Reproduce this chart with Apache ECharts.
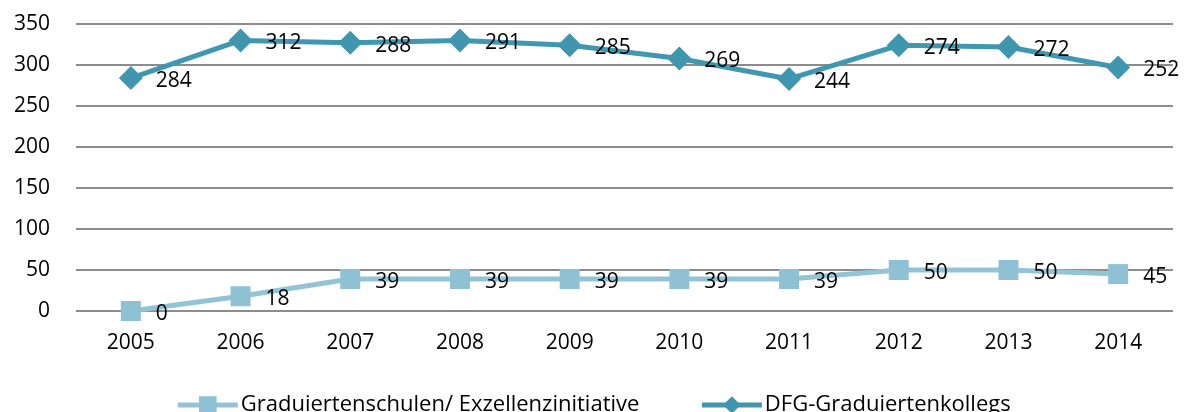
<!DOCTYPE html>
<html>
<head>
<meta charset="utf-8">
<script src="https://cdn.jsdelivr.net/npm/echarts@6/dist/echarts.min.js"></script>
<style>
html,body{margin:0;padding:0;background:#fff;}
#chart{width:1186px;height:412px;}
</style>
</head>
<body>
<div id="chart"></div>
<script>
var years = ['2005','2006','2007','2008','2009','2010','2011','2012','2013','2014'];
var graduiertenschulen = [0, 18, 39, 39, 39, 39, 39, 50, 50, 45];
var dfgKollegs = [284, 312, 288, 291, 285, 269, 244, 274, 272, 252];
var yTicks = [0, 50, 100, 150, 200, 250, 300, 350];

var FONT = 'Open Sans';
var chart = echarts.init(document.getElementById('chart'));
chart.setOption({
  animation: false,
  textStyle: {fontFamily: FONT},
  grid: {left: 76, right: 13, top: 24, bottom: 101, containLabel: false},
  legend: {
    top: 389,
    left: 'center',
    itemGap: 60,
    itemWidth: 60,
    itemHeight: 22,
    lineStyle: {width: 5},
    textStyle: {fontFamily: FONT, fontSize: 22, color: '#000', padding: [0, 0, 0, -2]},
    data: ['Graduiertenschulen/ Exzellenzinitiative', 'DFG-Graduiertenkollegs']
  },
  xAxis: {
    type: 'category',
    data: years,
    boundaryGap: true,
    axisLine: {show: false},
    axisTick: {show: false},
    axisLabel: {fontFamily: FONT, fontSize: 21, color: '#000', margin: 22}
  },
  yAxis: {
    type: 'value',
    min: yTicks[0],
    max: yTicks[yTicks.length - 1],
    interval: 50,
    axisLine: {show: false},
    axisTick: {show: false},
    axisLabel: {fontFamily: FONT, fontSize: 21, color: '#000', margin: 26},
    splitLine: {lineStyle: {color: '#8c8c8c', width: 2}}
  },
  series: [
    {
      name: 'Graduiertenschulen/ Exzellenzinitiative',
      type: 'line',
      stack: 'total',
      data: graduiertenschulen,
      symbol: 'rect',
      symbolSize: 20,
      lineStyle: {color: '#93c4d6', width: 5},
      itemStyle: {color: '#8fc1d4'},
      label: {show: true, position: 'right', distance: 15, offset: [0, 3], fontFamily: FONT, fontSize: 21, color: '#000'},
      z: 3
    },
    {
      name: 'DFG-Graduiertenkollegs',
      type: 'line',
      stack: 'total',
      data: dfgKollegs,
      symbol: 'diamond',
      symbolSize: 24,
      lineStyle: {color: '#3f97b0', width: 5},
      itemStyle: {color: '#3f96ae'},
      label: {show: true, position: 'right', distance: 13, offset: [0, 3], fontFamily: FONT, fontSize: 21, color: '#000'},
      z: 4
    }
  ]
});
</script>
</body>
</html>
